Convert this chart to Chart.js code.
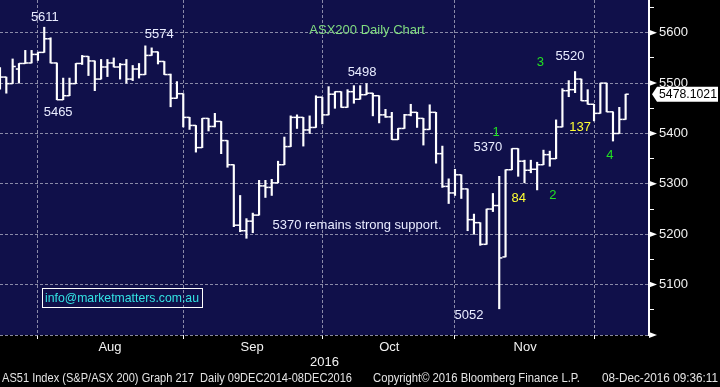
<!DOCTYPE html>
<html>
<head>
<meta charset="utf-8">
<title>ASX200 Daily Chart</title>
<script src="https://cdn.jsdelivr.net/npm/chart.js@4.4.1/dist/chart.umd.min.js"></script>
<style>
  html, body { margin: 0; padding: 0; background: #000; }
  #wrap { width: 720px; height: 387px; }
</style>
</head>
<body>
<div id="wrap"><canvas id="asxChart" width="720" height="387"></canvas></div>
<script>
// daily bars, 22 Jul 2016 - 08 Dec 2016 (index = trading day)
const opens = [
	5515, 5512, 5499, 5528, 5539, 5540, 5557, 5561, 5588, 5540,
	5467, 5475, 5499, 5539, 5553, 5544, 5508, 5532, 5540, 5532,
	5537, 5508, 5528, 5517, 5555, 5562, 5543, 5517, 5470, 5479,
	5432, 5416, 5372, 5430, 5414, 5424, 5386, 5338, 5218, 5207,
	5226, 5238, 5296, 5293, 5302, 5338, 5374, 5432, 5432, 5407,
	5412, 5472, 5437, 5478, 5483, 5452, 5483, 5468, 5477, 5480,
	5475, 5437, 5433, 5388, 5410, 5437, 5442, 5430, 5408, 5442,
	5360, 5295, 5282, 5318, 5290, 5229, 5223, 5180, 5250, 5257,
	5155, 5328, 5370, 5345, 5327, 5329, 5338, 5358, 5350, 5413,
	5485, 5487, 5508, 5465, 5458, 5440, 5500, 5443, 5400, 5428
];
const highs = [
	5531, 5512, 5548, 5539, 5565, 5565, 5561, 5611, 5590, 5540,
	5510, 5510, 5539, 5555, 5553, 5544, 5547, 5547, 5550, 5539,
	5547, 5535, 5539, 5574, 5570, 5562, 5543, 5518, 5503, 5479,
	5432, 5416, 5430, 5430, 5440, 5424, 5386, 5338, 5277, 5231,
	5242, 5307, 5307, 5309, 5345, 5393, 5435, 5437, 5432, 5435,
	5475, 5472, 5493, 5483, 5483, 5487, 5495, 5495, 5499, 5480,
	5475, 5448, 5442, 5410, 5438, 5458, 5442, 5430, 5457, 5442,
	5375, 5310, 5329, 5318, 5290, 5240, 5223, 5250, 5281, 5315,
	5328, 5370, 5370, 5347, 5347, 5343, 5367, 5365, 5427, 5489,
	5505, 5523, 5508, 5487, 5458, 5500, 5500, 5443, 5452, 5478
];
const lows = [
	5488, 5480, 5499, 5500, 5539, 5540, 5545, 5561, 5540, 5467,
	5467, 5475, 5499, 5537, 5515, 5485, 5508, 5513, 5532, 5508,
	5500, 5505, 5510, 5517, 5555, 5538, 5517, 5453, 5470, 5413,
	5408, 5363, 5372, 5405, 5413, 5360, 5333, 5215, 5205, 5192,
	5203, 5238, 5273, 5277, 5302, 5338, 5374, 5410, 5375, 5400,
	5412, 5419, 5437, 5450, 5452, 5452, 5460, 5468, 5477, 5435,
	5421, 5432, 5388, 5388, 5410, 5435, 5412, 5377, 5408, 5341,
	5293, 5261, 5277, 5271, 5207, 5200, 5178, 5180, 5245, 5052,
	5155, 5328, 5315, 5302, 5322, 5288, 5338, 5335, 5350, 5413,
	5473, 5481, 5465, 5458, 5425, 5440, 5443, 5385, 5400, 5428
];
const closes = [
	5512, 5499, 5533, 5539, 5540, 5557, 5561, 5588, 5540, 5467,
	5475, 5499, 5539, 5553, 5544, 5508, 5532, 5540, 5532, 5537,
	5508, 5528, 5517, 5555, 5562, 5543, 5517, 5470, 5479, 5432,
	5416, 5372, 5430, 5414, 5424, 5386, 5338, 5218, 5207, 5226,
	5238, 5296, 5293, 5302, 5338, 5374, 5432, 5432, 5407, 5412,
	5472, 5437, 5478, 5483, 5452, 5483, 5468, 5477, 5480, 5475,
	5437, 5433, 5388, 5410, 5437, 5442, 5430, 5408, 5442, 5360,
	5295, 5282, 5318, 5290, 5229, 5223, 5180, 5250, 5257, 5153,
	5328, 5370, 5345, 5327, 5329, 5338, 5358, 5350, 5413, 5485,
	5487, 5508, 5465, 5458, 5440, 5500, 5443, 5400, 5428, 5478
];
const lastPrice = 5478.1021;

// first trading day of Aug, Sep, Oct, Nov, Dec
const monthStarts = [6, 29, 51, 72, 94];
const monthLabelPos = [17.4, 39.9, 61.6, 83.1];
const monthLabels = ["Aug", "Sep", "Oct", "Nov"];
const yearLabel = "2016";
const yTicks = [5000, 5050, 5100, 5150, 5200, 5250, 5300, 5350, 5400, 5450, 5500, 5550, 5600, 5650];

const WHITE = "#e9ecff";
const GREEN = "#22e022";
const YELLOW = "#ffff33";
const GRID = "rgba(160,160,185,0.85)";
const FONT = '"Liberation Sans", Arial, sans-serif';

// text notes anchored at (bar index, price)
const notes = [
	{ text: "5611", x: 7.1, y: 5630, color: WHITE },
	{ text: "5465", x: 9.2, y: 5441, color: WHITE },
	{ text: "5574", x: 25.2, y: 5597, color: WHITE },
	{ text: "ASX200 Daily Chart", x: 58.1, y: 5605, color: "#80dc80" },
	{ text: "5498", x: 57.3, y: 5521, color: WHITE },
	{ text: "3", x: 85.5, y: 5541, color: GREEN },
	{ text: "5520", x: 90.2, y: 5553, color: WHITE },
	{ text: "137", x: 91.8, y: 5413, color: YELLOW },
	{ text: "1", x: 78.5, y: 5403, color: GREEN },
	{ text: "5370", x: 77.2, y: 5373, color: WHITE },
	{ text: "4", x: 96.5, y: 5357, color: GREEN },
	{ text: "84", x: 82.1, y: 5272, color: YELLOW },
	{ text: "2", x: 87.5, y: 5278, color: GREEN },
	{ text: "5370 remains strong support.", x: 56.5, y: 5218, color: WHITE },
	{ text: "5052", x: 74.2, y: 5039, color: WHITE }
];
const email = { text: "info@marketmatters.com.au", x: 19.3, y: 5073 };

function noPadding(s) {
	s.paddingTop = 0;
	s.paddingBottom = 0;
	s.paddingLeft = 0;
	s.paddingRight = 0;
}

const bbgPlugin = {
	id: "bbg",
	beforeDraw(chart) {
		const { ctx, chartArea: a } = chart;
		ctx.save();
		ctx.fillStyle = "#000";
		ctx.fillRect(0, 0, chart.width, chart.height);
		ctx.fillStyle = "#10104a";
		ctx.fillRect(a.left, a.top, a.right - a.left, a.bottom - a.top);
		ctx.restore();
	},
	afterDraw(chart) {
		const { ctx, chartArea: a, scales } = chart;
		const x = scales.x, y = scales.y;
		ctx.save();

		// arrow heads on the price axis
		ctx.fillStyle = "#fff";
		yTicks.forEach((v) => {
			if (v % 100 !== 0) return;
			const py = y.getPixelForValue(v);
			ctx.beginPath();
			ctx.moveTo(a.right, py - 3);
			ctx.lineTo(a.right + 8, py);
			ctx.lineTo(a.right, py + 3);
			ctx.closePath();
			ctx.fill();
		});

		// notes
		ctx.textAlign = "center";
		ctx.textBaseline = "middle";
		ctx.font = "13px " + FONT;
		notes.forEach((n) => {
			ctx.fillStyle = n.color;
			ctx.fillText(n.text, x.getPixelForValue(n.x), y.getPixelForValue(n.y));
		});

		// email box
		const ex = x.getPixelForValue(email.x), ey = y.getPixelForValue(email.y);
		const ew = Math.min(ctx.measureText(email.text).width, 154);
		ctx.fillStyle = "#33e3e3";
		ctx.fillText(email.text, ex, ey, 154);
		ctx.strokeStyle = "#fff";
		ctx.lineWidth = 1;
		ctx.strokeRect(Math.round(ex - ew / 2 - 3) + 0.5, Math.round(ey - 10) + 0.5, Math.round(ew + 6), 19);

		// last price tag
		const ly = y.getPixelForValue(lastPrice);
		ctx.fillStyle = "#fff";
		ctx.beginPath();
		ctx.moveTo(a.right + 3, ly);
		ctx.lineTo(a.right + 8, ly - 7.5);
		ctx.lineTo(chart.width - 2, ly - 7.5);
		ctx.lineTo(chart.width - 2, ly + 7.5);
		ctx.lineTo(a.right + 8, ly + 7.5);
		ctx.closePath();
		ctx.fill();
		ctx.fillStyle = "#000";
		ctx.textAlign = "left";
		ctx.fillText(lastPrice.toFixed(4), a.right + 10, ly + 0.5, 58);

		// footer line
		ctx.fillStyle = "#e4e4e4";
		ctx.font = "12.5px " + FONT;
		ctx.fillText("AS51 Index (S&P/ASX 200) Graph 217  Daily 09DEC2014-08DEC2016", 2, 379, 350);
		ctx.fillText("Copyright\u00a9 2016 Bloomberg Finance L.P.", 373, 379, 207);
		ctx.fillText("08-Dec-2016 09:36:11", 602, 379, 116);
		ctx.restore();
	}
};

const ctx = document.getElementById("asxChart").getContext("2d");
new Chart(ctx, {
	type: "bar",
	data: {
		datasets: [
			{
				label: "High-Low",
				data: lows.map((lo, i) => ({ x: i, y: [lo, highs[i]] })),
				backgroundColor: "#ffffff",
				borderWidth: 0,
				barThickness: 1.5,
				grouped: false,
				order: 2
			},
			{
				type: "scatter",
				label: "Open",
				data: opens.map((o, i) => ({ x: i - 0.25, y: o })),
				pointStyle: "line",
				radius: 1.58,
				borderColor: "#ffffff",
				borderWidth: 1.5,
				order: 1
			},
			{
				type: "scatter",
				label: "Close",
				data: closes.map((c, i) => ({ x: i + 0.25, y: c })),
				pointStyle: "line",
				radius: 1.58,
				borderColor: "#ffffff",
				borderWidth: 1.5,
				order: 1
			}
		]
	},
	options: {
		responsive: false,
		animation: false,
		events: [],
		layout: { autoPadding: false, padding: 0 },
		plugins: { legend: { display: false }, tooltip: { enabled: false } },
		scales: {
			x: {
				type: "linear",
				min: 0,
				max: 102.7,
				offset: false,
				afterBuildTicks: (s) => {
					s.ticks = monthStarts.concat(monthLabelPos).sort((p, q) => p - q).map((v) => ({ value: v }));
				},
				afterFit: (s) => { s.height = 52; noPadding(s); },
				grid: {
					offset: false,
					color: (c) => (c.tick && monthStarts.includes(c.tick.value) ? GRID : "transparent"),
					tickColor: (c) => (c.tick && monthStarts.includes(c.tick.value) ? "#fff" : "transparent"),
					tickLength: 4,
					lineWidth: 1
				},
				border: { display: false, dash: [3, 2] },
				ticks: {
					autoSkip: false,
					maxRotation: 0,
					padding: 1,
					color: "#f2f2f2",
					font: { family: FONT, size: 13 },
					callback: (v) => {
						const k = monthLabelPos.indexOf(v);
						return k >= 0 ? monthLabels[k] : "";
					}
				},
				title: {
					display: true,
					text: yearLabel,
					color: "#f2f2f2",
					font: { family: FONT, size: 13 },
					padding: { top: 0, bottom: 17 }
				}
			},
			y: {
				position: "right",
				min: 5000,
				max: 5665,
				beginAtZero: false,
				afterBuildTicks: (s) => { s.ticks = yTicks.map((v) => ({ value: v })); },
				afterFit: (s) => { s.width = 71; noPadding(s); },
				grid: {
					color: (c) => (c.tick && c.tick.value % 100 === 0 ? GRID : "transparent"),
					tickColor: (c) => (c.tick && c.tick.value % 100 !== 0 ? "#fff" : "transparent"),
					tickLength: 5,
					lineWidth: 1
				},
				border: { display: true, color: "#fff", width: 2, dash: [3, 2] },
				ticks: {
					padding: 5,
					color: "#f2f2f2",
					font: { family: FONT, size: 13 },
					callback: (v) => (v % 100 === 0 && v > 5000 ? String(v) : "")
				}
			}
		}
	},
	plugins: [bbgPlugin]
});
</script>
</body>
</html>
